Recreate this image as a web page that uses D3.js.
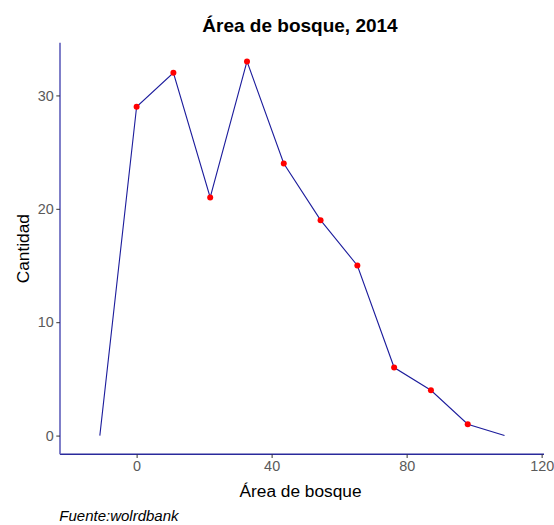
<!DOCTYPE html>
<html>
<head>
<meta charset="utf-8">
<script src="https://cdn.jsdelivr.net/npm/d3@7"></script>
<style>
  body { margin: 0; background: #fff; }
  svg { display: block; font-family: "Liberation Sans", Arial, sans-serif; }
</style>
</head>
<body>
<svg id="chart" width="554" height="525"></svg>
<script>
// Data: frequency polygon of forest area (bin midpoints and counts)
const binMids = [-10.9, 0, 10.9, 21.8, 32.7, 43.6, 54.5, 65.4, 76.3, 87.2, 98.1, 109.0];
const counts  = [0, 29, 32, 21, 33, 24, 19, 15, 6, 4, 1, 0];
const xTicks = [0, 40, 80, 120];
const yTicks = [0, 10, 20, 30];
const titleText = "Área de bosque, 2014";
const xLabel = "Área de bosque";
const yLabel = "Cantidad";
const captionText = "Fuente:wolrdbank";

(function () {
const svg = d3.select("#chart");
const pLeft = 60, pRight = 544, pTop = 42.7, pBottom = 454.3;

const x = d3.scaleLinear().domain([-22.7, 120.7]).range([pLeft, pRight]);
const y = d3.scaleLinear().domain([-1.65, 34.65]).range([pBottom, pTop]);

const data = binMids.map((m, i) => ({ x: m, y: counts[i] }));

// axes
const xAxis = d3.axisBottom(x).tickValues(xTicks).tickSize(3.7).tickPadding(2.5);
const yAxis = d3.axisLeft(y).tickValues(yTicks).tickSize(3.7).tickPadding(2.5);

const gx = svg.append("g").attr("transform", `translate(0,${pBottom})`).call(xAxis);
const gy = svg.append("g").attr("transform", `translate(${pLeft},0)`).call(yAxis);

gx.select(".domain").attr("stroke", "#2a2a9c").attr("stroke-width", 1.6)
  .attr("d", `M${pLeft},0H${pRight}`);
gy.select(".domain").attr("stroke", "#5f5fbb").attr("stroke-width", 1.6)
  .attr("d", `M0,${pTop}V${pBottom}`);
[gx, gy].forEach(g => {
  g.selectAll(".tick line").attr("stroke", "#333333").attr("stroke-width", 1);
  g.selectAll(".tick text").attr("fill", "#5a5a5a").attr("font-size", 14.4)
    .attr("font-family", "'Liberation Sans', Arial, sans-serif");
});

// line
const line = d3.line().x(d => x(d.x)).y(d => y(d.y));
svg.append("path").datum(data)
  .attr("fill", "none").attr("stroke", "#1c1c9c").attr("stroke-width", 1.1)
  .attr("d", line);

// points (only where count > 0)
svg.append("g").selectAll("circle")
  .data(data.filter(d => d.y > 0))
  .join("circle")
  .attr("cx", d => x(d.x)).attr("cy", d => y(d.y))
  .attr("r", 3).attr("fill", "#ff0000");

// title
svg.append("text").attr("x", 300).attr("y", 31.5).attr("text-anchor", "middle")
  .attr("font-size", 19).attr("font-weight", "bold").attr("fill", "#000")
  .text(titleText);

// axis titles
svg.append("text").attr("x", 300.5).attr("y", 497.3).attr("text-anchor", "middle")
  .attr("font-size", 17.3).attr("fill", "#000").text(xLabel);
svg.append("text").attr("transform", `translate(29,248.7) rotate(-90)`)
  .attr("text-anchor", "middle").attr("font-size", 17.3).attr("fill", "#000")
  .text(yLabel);

// caption
svg.append("text").attr("x", 59.3).attr("y", 521).attr("font-size", 15)
  .attr("font-style", "italic").attr("fill", "#000").text(captionText);
})();
</script>
</body>
</html>
